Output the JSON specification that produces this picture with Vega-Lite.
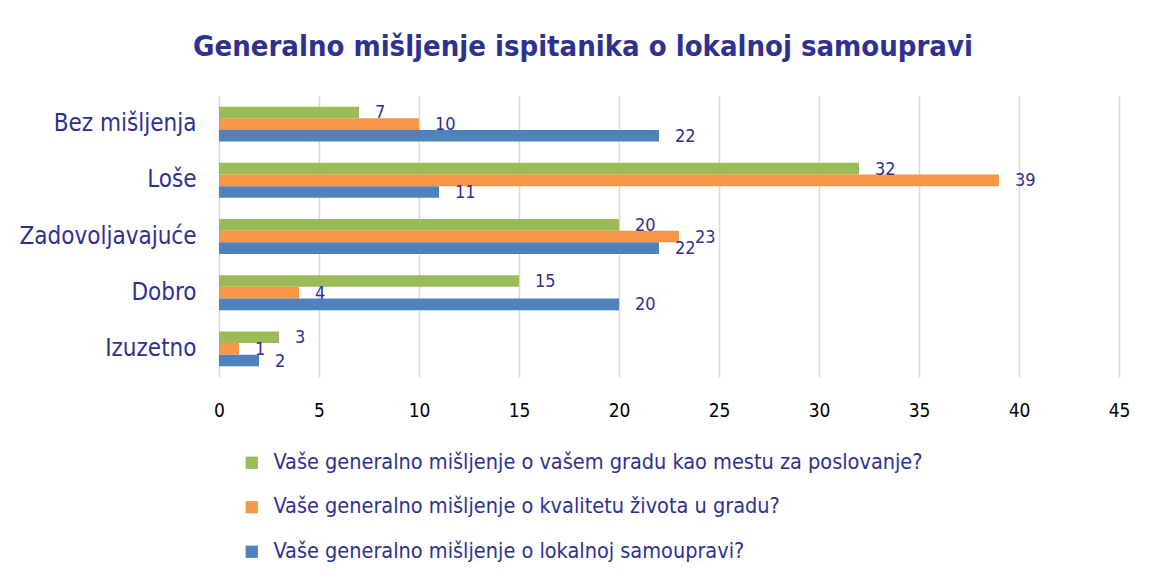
{
  "$schema": "https://vega.github.io/schema/vega-lite/v6.json",
  "width": 900,
  "height": 281,
  "autosize": {"type": "none"},
  "padding": {"left": 219, "top": 96, "right": 38, "bottom": 197},
  "background": "white",
  "title": {
    "text": "Generalno mišljenje ispitanika o lokalnoj samoupravi",
    "font": "DejaVu Sans Condensed",
    "fontSize": 29,
    "fontWeight": "bold",
    "color": "#2E3192",
    "anchor": "middle",
    "dx": -86,
    "offset": 34
  },
  "data": {
    "values": [
      {"kategorija": "Bez mišljenja", "pitanje": "Vaše generalno mišljenje o vašem gradu kao mestu za poslovanje?", "vrednost": 7},
      {"kategorija": "Bez mišljenja", "pitanje": "Vaše generalno mišljenje o kvalitetu života u gradu?", "vrednost": 10},
      {"kategorija": "Bez mišljenja", "pitanje": "Vaše generalno mišljenje o lokalnoj samoupravi?", "vrednost": 22},
      {"kategorija": "Loše", "pitanje": "Vaše generalno mišljenje o vašem gradu kao mestu za poslovanje?", "vrednost": 32},
      {"kategorija": "Loše", "pitanje": "Vaše generalno mišljenje o kvalitetu života u gradu?", "vrednost": 39},
      {"kategorija": "Loše", "pitanje": "Vaše generalno mišljenje o lokalnoj samoupravi?", "vrednost": 11},
      {"kategorija": "Zadovoljavajuće", "pitanje": "Vaše generalno mišljenje o vašem gradu kao mestu za poslovanje?", "vrednost": 20},
      {"kategorija": "Zadovoljavajuće", "pitanje": "Vaše generalno mišljenje o kvalitetu života u gradu?", "vrednost": 23},
      {"kategorija": "Zadovoljavajuće", "pitanje": "Vaše generalno mišljenje o lokalnoj samoupravi?", "vrednost": 22},
      {"kategorija": "Dobro", "pitanje": "Vaše generalno mišljenje o vašem gradu kao mestu za poslovanje?", "vrednost": 15},
      {"kategorija": "Dobro", "pitanje": "Vaše generalno mišljenje o kvalitetu života u gradu?", "vrednost": 4},
      {"kategorija": "Dobro", "pitanje": "Vaše generalno mišljenje o lokalnoj samoupravi?", "vrednost": 20},
      {"kategorija": "Izuzetno", "pitanje": "Vaše generalno mišljenje o vašem gradu kao mestu za poslovanje?", "vrednost": 3},
      {"kategorija": "Izuzetno", "pitanje": "Vaše generalno mišljenje o kvalitetu života u gradu?", "vrednost": 1},
      {"kategorija": "Izuzetno", "pitanje": "Vaše generalno mišljenje o lokalnoj samoupravi?", "vrednost": 2}
    ]
  },
  "encoding": {
    "y": {
      "field": "kategorija",
      "type": "nominal",
      "sort": ["Bez mišljenja", "Loše", "Zadovoljavajuće", "Dobro", "Izuzetno"],
      "scale": {"paddingInner": 0.378, "paddingOuter": 0.19},
      "axis": {
        "title": null,
        "domain": false,
        "ticks": false,
        "labelPadding": 23,
        "labelFontSize": 24,
        "labelFont": "DejaVu Sans Condensed",
        "labelColor": "#2E3192"
      }
    },
    "yOffset": {
      "field": "pitanje",
      "type": "nominal",
      "sort": [
        "Vaše generalno mišljenje o vašem gradu kao mestu za poslovanje?",
        "Vaše generalno mišljenje o kvalitetu života u gradu?",
        "Vaše generalno mišljenje o lokalnoj samoupravi?"
      ]
    },
    "x": {
      "field": "vrednost",
      "type": "quantitative",
      "scale": {"domain": [0, 45], "nice": false},
      "axis": {
        "title": null,
        "values": [0, 5, 10, 15, 20, 25, 30, 35, 40, 45],
        "grid": true,
        "gridColor": "#D9D9D9",
        "gridWidth": 1.5,
        "domain": false,
        "ticks": false,
        "labelFlush": false,
        "labelPadding": 24,
        "labelFontSize": 19,
        "labelFont": "DejaVu Sans Condensed",
        "labelColor": "#000000"
      }
    }
  },
  "layer": [
    {
      "mark": {"type": "bar"},
      "encoding": {
        "color": {
          "field": "pitanje",
          "type": "nominal",
          "sort": [
            "Vaše generalno mišljenje o vašem gradu kao mestu za poslovanje?",
            "Vaše generalno mišljenje o kvalitetu života u gradu?",
            "Vaše generalno mišljenje o lokalnoj samoupravi?"
          ],
          "scale": {
            "domain": [
              "Vaše generalno mišljenje o vašem gradu kao mestu za poslovanje?",
              "Vaše generalno mišljenje o kvalitetu života u gradu?",
              "Vaše generalno mišljenje o lokalnoj samoupravi?"
            ],
            "range": ["#9BBB59", "#F79646", "#4F81BD"]
          },
          "legend": {
            "title": null,
            "orient": "none",
            "legendX": 22,
            "legendY": 356,
            "direction": "vertical",
            "symbolType": "square",
            "symbolSize": 150,
            "symbolStrokeWidth": 0,
            "labelFontSize": 21.5,
            "labelFont": "DejaVu Sans Condensed",
            "labelColor": "#2E3192",
            "labelLimit": 900,
            "labelOffset": 11,
            "rowPadding": 21.5
          }
        }
      }
    },
    {
      "mark": {
        "type": "text",
        "align": "left",
        "baseline": "middle",
        "dx": 16,
        "dy": 1,
        "fontSize": 18,
        "font": "DejaVu Sans Condensed",
        "color": "#2E3192"
      },
      "encoding": {
        "text": {"field": "vrednost", "type": "quantitative"}
      }
    }
  ],
  "config": {
    "view": {"stroke": null}
  }
}
